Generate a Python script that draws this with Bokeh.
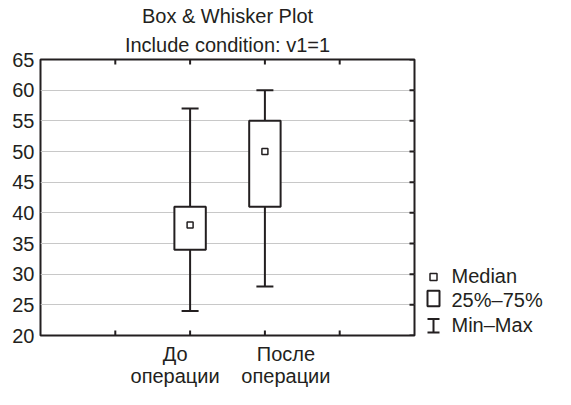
import math
from bokeh.plotting import figure
from bokeh.models import Range1d, FixedTicker, Title
from bokeh.layouts import row
from bokeh.core.properties import value
from bokeh.embed import file_html
from bokeh.resources import INLINE

# ---- data ----
groups = ["До\nоперации", "После\nоперации"]
mins = [24, 28]
q1 = [34, 41]
medians = [38, 50]
q3 = [41, 55]
maxs = [57, 60]
y_ticks = [20, 25, 30, 35, 40, 45, 50, 55, 60, 65]
x_ticks = [1, 2, 3, 4]
legend_labels = ["Median", "25%–75%", "Min–Max"]
title_lines = ["Box & Whisker Plot", "Include condition: v1=1"]

FONT = "Liberation Sans"
FS = "20px"
DARK = "#231f20"
xs = [i + 2 for i in range(len(groups))]

W, H = 425, 389
BL, BR, BT, BB = 40, 11, 55, 51
X0, X1, Y0, Y1 = 0, 5, 20, 65
px_per_x = (W - BL - BR) / (X1 - X0)

# ---- main plot ----
p = figure(width=W, height=H, x_range=Range1d(X0, X1), y_range=Range1d(Y0, Y1),
           output_backend="svg", toolbar_location=None, title=None,
           min_border_left=BL, min_border_right=BR, min_border_bottom=BB, min_border_top=BT)
p.outline_line_color = DARK
p.outline_line_width = 2
p.background_fill_color = "white"

# titles: first added sits next to the frame
p.add_layout(Title(text=title_lines[1], align="center", text_font=FONT, text_font_size=FS,
                   text_font_style="normal", text_color=DARK, standoff=7), "above")
p.add_layout(Title(text=title_lines[0], align="center", text_font=FONT, text_font_size=FS,
                   text_font_style="normal", text_color=DARK, standoff=4), "above")

# y axis
p.yaxis.ticker = FixedTicker(ticks=y_ticks)
p.yaxis.axis_line_color = None
p.yaxis.minor_tick_line_color = None
p.yaxis.major_tick_line_color = None
p.yaxis.major_tick_in = 0
p.yaxis.major_tick_out = 0
p.yaxis.major_label_standoff = 6
p.yaxis.major_label_text_font = FONT
p.yaxis.major_label_text_font_size = FS
p.yaxis.major_label_text_color = DARK

# x axis: category labels, nudged apart as in the original
label_shift = [-15, 21]
label_pos = [x + s / px_per_x for x, s in zip(xs, label_shift)]
p.xaxis.ticker = FixedTicker(ticks=label_pos)
p.xaxis.major_label_overrides = {pos: g for pos, g in zip(label_pos, groups)}
p.xaxis.axis_line_color = None
p.xaxis.minor_tick_line_color = None
p.xaxis.major_tick_line_color = None
p.xaxis.major_tick_in = 0
p.xaxis.major_tick_out = 0
p.xaxis.major_label_standoff = 7
p.xaxis.major_label_text_font = FONT
p.xaxis.major_label_text_font_size = FS
p.xaxis.major_label_text_color = DARK
p.xaxis.major_label_text_line_height = 1.0

p.xgrid.visible = False
p.ygrid.ticker = FixedTicker(ticks=y_ticks)
p.ygrid.grid_line_color = "#c8c8c8"
p.ygrid.grid_line_width = 1

# inward tick marks on the top, bottom and right edges (clipped at the frame)
p.scatter(x=x_ticks * 2, y=[Y1] * len(x_ticks) + [Y0] * len(x_ticks), marker="dash",
          angle=math.pi / 2, size=10, line_color=DARK, line_width=2)
p.scatter(x=[X1] * len(y_ticks), y=y_ticks, marker="dash", size=10,
          line_color=DARK, line_width=2)

# whiskers
p.segment(x0=xs, y0=mins, x1=xs, y1=maxs, line_color=DARK, line_width=2)
p.scatter(x=xs, y=mins, marker="dash", size=17, line_color=DARK, line_width=2)
p.scatter(x=xs, y=maxs, marker="dash", size=17, line_color=DARK, line_width=2)
# boxes
p.vbar(x=xs, width=0.42, bottom=q1, top=q3, fill_color="white", line_color=DARK, line_width=2)
# medians
p.scatter(x=xs, y=medians, marker="square", size=6, fill_color="white",
          line_color=DARK, line_width=1.5)

# ---- legend panel (its frame is aligned with the main frame by the row) ----
LW = 555 - W
lg = figure(width=LW, height=H, x_range=Range1d(0, LW), y_range=Range1d(H - BB, BT),
            output_backend="svg", toolbar_location=None, min_border_left=0,
            min_border_right=0, min_border_top=BT, min_border_bottom=BB)
lg.axis.visible = False
lg.grid.visible = False
lg.outline_line_color = None

key_x = 8
row_y = [278, 300, 328]
lg.scatter(x=[key_x], y=[row_y[0]], marker="square", size=7, fill_color="white",
           line_color=DARK, line_width=1.5)
lg.rect(x=[key_x], y=[row_y[1]], width=12, height=16, fill_color="white",
        line_color=DARK, line_width=2)
lg.segment(x0=[key_x], y0=[row_y[2] - 7], x1=[key_x], y1=[row_y[2] + 7],
           line_color=DARK, line_width=2)
lg.segment(x0=[key_x - 6, key_x - 6], y0=[row_y[2] - 7, row_y[2] + 7],
           x1=[key_x + 6, key_x + 6], y1=[row_y[2] - 7, row_y[2] + 7],
           line_color=DARK, line_width=2)
lg.text(x=[26] * 3, y=[277, 302, 327], text=legend_labels,
        text_font=value(FONT), text_font_size=FS, text_color=DARK,
        text_baseline="middle", text_align="left")

layout = row(p, lg)
open("out.html", "w").write(file_html(layout, INLINE))
